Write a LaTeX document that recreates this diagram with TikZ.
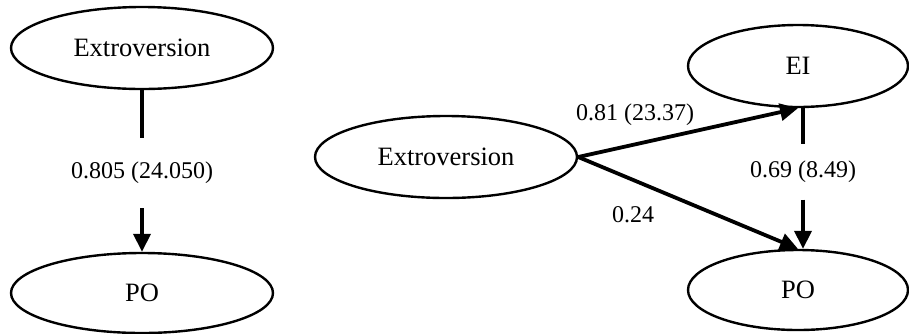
\documentclass[tikz,border=0pt]{standalone}
\usepackage{fontspec}
\setmainfont{Liberation Serif}
\usetikzlibrary{shapes.geometric,arrows.meta}

\tikzstyle{construct} = [draw, ellipse, line width=2.4pt, inner sep=0pt, font=\fontsize{26.5}{30}\selectfont]
\tikzstyle{coef} = [rectangle, inner sep=0pt, font=\fontsize{24}{28}\selectfont]
\tikzstyle{path} = [line width=3.8pt]
\tikzstyle{arrow} = [path, -{Triangle[length=18pt,width=17pt]}]

\begin{document}
\begin{tikzpicture}[auto,node distance=1cm]
  \def\rw{262pt}
  \def\rh{82pt}
  \def\sw{220pt}

  \useasboundingbox (0,0) rectangle (909pt,-333pt);

  % model without mediator
  \node [construct, minimum width=\rw, minimum height=\rh] at (142pt,-48pt) (ext1) {Extroversion};
  \node [coef, below of=ext1, node distance=125pt, minimum height=70pt] (coefa) {0.805 (24.050)};
  \node [construct, below of=coefa, node distance=120pt, minimum width=\rw, minimum height=80pt] (po1) {PO};

  % model with EI as mediator
  \node [coordinate, right of=ext1, node distance=304pt] (ext1_r) {};
  \node [construct, below of=ext1_r, node distance=109pt, minimum width=\rw, minimum height=\rh] (ext2) {Extroversion};
  \node [coordinate, right of=ext2, node distance=352pt] (ext2_r) {};
  \node [construct, above of=ext2_r, node distance=91pt, minimum width=\sw, minimum height=\rh] (ei) {EI};
  \node [construct, below of=ei, node distance=224pt, minimum width=\sw, minimum height=80pt] (po2) {PO};

  \node [coef, below of=ei, node distance=106pt, xshift=5pt, minimum height=55pt] (coefb) {0.69 (8.49)};
  \node [coef, right of=ext2, node distance=189pt, yshift=42pt] (coefc) {0.81 (23.37)};
  \node [coef, right of=ext2, node distance=187pt, yshift=-58pt] (coefd) {0.24};

  \draw [path] (ext1) -- (coefa);
  \draw [arrow] (coefa) -- (po1);

  \draw [arrow] (ext2.east) -- (ei.south);
  \draw [arrow] (ext2.east) -- (po2.north);
  \draw [path] (ei.south -| coefb) -- (coefb);
  \draw [arrow] (coefb) -- (coefb |- po2.north);
\end{tikzpicture}
\end{document}
